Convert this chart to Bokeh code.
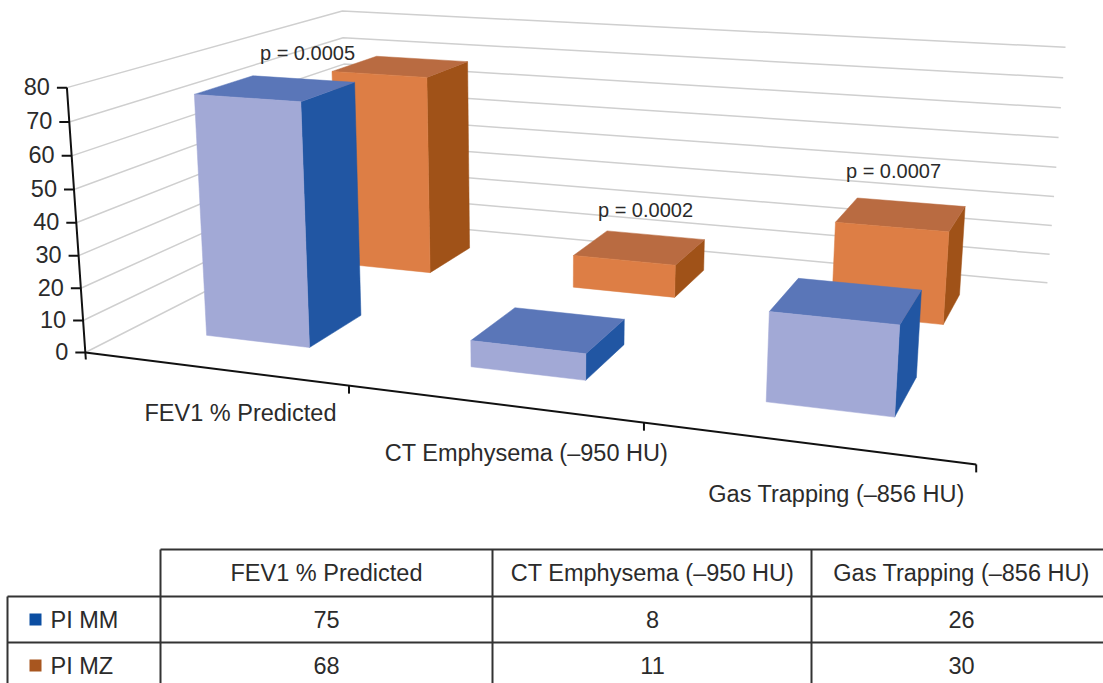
import numpy as np
from bokeh.plotting import figure
from bokeh.models import Range1d
from bokeh.core.properties import value
from bokeh.embed import file_html
from bokeh.resources import INLINE

categories = ["FEV1 % Predicted", "CT Emphysema (\u2013950 HU)", "Gas Trapping (\u2013856 HU)"]
series = ["PI MM", "PI MZ"]
pi_mm = [75, 8, 26]
pi_mz = [68, 11, 30]
y_ticks = [0, 10, 20, 30, 40, 50, 60, 70, 80]
p_labels = ["p = 0.0005", "p = 0.0002", "p = 0.0007"]

# Camera calibration: (u along categories, v depth, value, weight) -> page pixel
CAL = [
    (0, 0, 0, 85, 351, 3), (1, 0, 0, 978, 465, 1), (1, 1, 0, 1047, 281, 1), (0, 1, 0, 345, 225, 1),
    (0, 0, 80, 66, 88, 3), (0, 1, 80, 343, 9, 2), (1, 1, 80, 1063, 47, 1),
    (1/3, 0, 0, 348, 385, 1), (2/3, 0, 0, 644, 423, 1),
]
A = []
b = []
for u, v, w, px, py, wt in CAL:
    w = w / 80
    A.append([wt*c for c in (u, v, w, 1, 0, 0, 0, 0, -px*u, -px*v, -px*w)]); b.append(wt*px)
    A.append([wt*c for c in (0, 0, 0, 0, u, v, w, 1, -py*u, -py*v, -py*w)]); b.append(wt*py)
M = np.linalg.lstsq(np.array(A, float), np.array(b, float), rcond=None)[0]
M = np.append(M, 1.0).reshape(3, 4)

def proj(u, v, val):
    q = M @ np.array([u, v, val / 80, 1.0])
    return q[0] / q[2], q[1] / q[2]

def quad(points):
    pts = [proj(*p) for p in points]
    return [p[0] for p in pts], [p[1] for p in pts]

BAR_W = 0.135
CENTERS = {"PI MM": [0.164, 0.500, 0.836], "PI MZ": [0.165, 0.500, 0.834]}
DEPTH = {"PI MM": (0.155, 0.355), "PI MZ": (0.66, 0.86)}
COL = {"PI MM": ("#A2A9D6", "#5A76B8", "#2156A3"),
       "PI MZ": ("#DD7E45", "#B96B41", "#A05218")}
INK = "#2b2b2b"
FONT = value("Liberation Sans")
FS = "23.5px"

p = figure(width=1103, height=683, x_range=Range1d(0, 1103), y_range=Range1d(683, 0),
           toolbar_location=None, output_backend="svg", min_border=0,
           background_fill_color="white", border_fill_color="white")
p.axis.visible = False
p.grid.visible = False
p.outline_line_color = None

# Walls
for t in y_ticks:
    a, c, d = proj(0, 0, t), proj(0, 1, t), proj(1, 1, t)
    p.line([a[0], c[0], d[0]], [a[1], c[1], d[1]], line_color="#cfcfcf", line_width=1.5)

# Bars
for name, vals in (("PI MZ", pi_mz), ("PI MM", pi_mm)):
    v0, v1 = DEPTH[name]
    front, top, side = COL[name]
    for i, val in enumerate(vals):
        c = CENTERS[name][i]
        u0, u1 = c - BAR_W / 2, c + BAR_W / 2
        x, y = quad([(u1, v0, 0), (u1, v1, 0), (u1, v1, val), (u1, v0, val)])
        p.patch(x, y, fill_color=side, line_color=side, line_width=0.5)
        x, y = quad([(u0, v0, val), (u1, v0, val), (u1, v1, val), (u0, v1, val)])
        p.patch(x, y, fill_color=top, line_color=top, line_width=0.5)
        x, y = quad([(u0, v0, 0), (u1, v0, 0), (u1, v0, val), (u0, v0, val)])
        p.patch(x, y, fill_color=front, line_color=front, line_width=0.5)

# Axes
a0, a1 = proj(0, 0, 0), proj(0, 0, 80)
p.line([a1[0], a0[0], a0[0] + 0.5], [a1[1], a0[1], a0[1] + 7], line_color="#111111", line_width=2)
for t in y_ticks:
    q = proj(0, 0, t)
    p.line([q[0] - 10, q[0]], [q[1], q[1]], line_color="#111111", line_width=2)
    p.text([q[0] - 17], [q[1] - 1], text=[str(t)], text_font=FONT, text_font_size=FS,
           text_align="right", text_baseline="middle", text_color=INK)
b0, b1 = proj(0, 0, 0), proj(1, 0, 0)
p.line([b0[0], b1[0]], [b0[1], b1[1]], line_color="#111111", line_width=2)
for k in (1, 2, 3):
    q = proj(k / 3, 0, 0)
    p.line([q[0], q[0]], [q[1], q[1] + 8], line_color="#111111", line_width=2)

cat_x = [240, 526, 836]
cat_y = [412, 452, 493]
p.text(cat_x, cat_y, text=categories, text_font=FONT, text_font_size=FS,
       text_align="center", text_baseline="middle", text_color=INK)
p.text([307, 645, 893], [52, 209, 170], text=p_labels, text_font=FONT, text_font_size="20px",
       text_align="center", text_baseline="middle", text_color=INK)

# Data table
LINE = "#333333"
hline_y = [549, 596, 642]
col_x = [160, 492, 811]
p.line([160, 1103], [hline_y[0]] * 2, line_color=LINE, line_width=2)
p.line([7, 1103], [hline_y[1]] * 2, line_color=LINE, line_width=2)
p.line([7, 1103], [hline_y[2]] * 2, line_color=LINE, line_width=2)
p.line([7, 7], [596, 683], line_color=LINE, line_width=2)
for cx in col_x:
    p.line([cx, cx], [549, 683], line_color=LINE, line_width=2)
center_x = [326, 652, 961]
p.text(center_x, [572] * 3, text=categories, text_font=FONT, text_font_size=FS,
       text_align="center", text_baseline="middle", text_color=INK)
p.text(center_x, [619] * 3, text=[str(v) for v in pi_mm], text_font=FONT, text_font_size=FS,
       text_align="center", text_baseline="middle", text_color=INK)
p.text(center_x, [665] * 3, text=[str(v) for v in pi_mz], text_font=FONT, text_font_size=FS,
       text_align="center", text_baseline="middle", text_color=INK)
p.text([50, 50], [619, 665], text=series, text_font=FONT, text_font_size=FS,
       text_align="left", text_baseline="middle", text_color=INK)
p.quad(left=[29, 29], right=[41, 41], top=[613, 659], bottom=[625, 671],
       fill_color=["#0B4EA2", "#A8561F"], line_color=None)

open("out.html", "w").write(file_html(p, INLINE))
